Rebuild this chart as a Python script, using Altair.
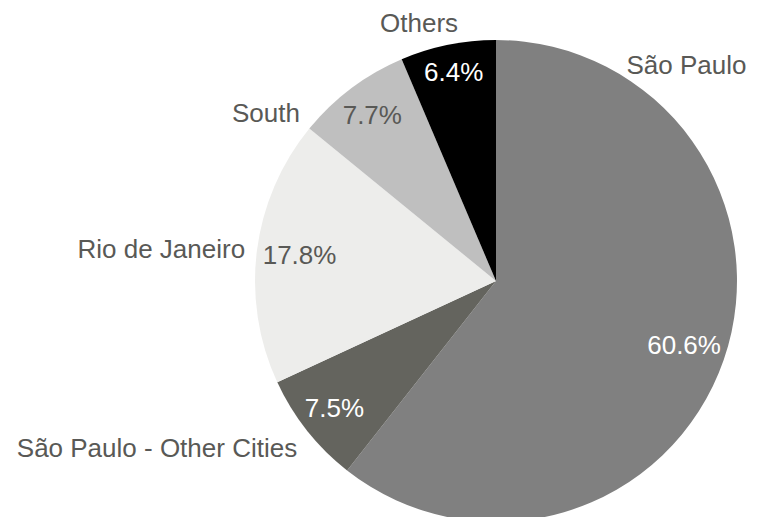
import altair as alt
import pandas as pd

categories = ["São Paulo", "São Paulo - Other Cities", "Rio de Janeiro", "South", "Others"]
shares = [60.6, 7.5, 17.8, 7.7, 6.4]
order_idx = [0, 1, 2, 3, 4]

slice_colors = ["#808080", "#64645e", "#ededeb", "#bfbfbf", "#000000"]
TEXT = "#595956"
FONT = "Liberation Sans"
CX, CY, R = 488, 273, 241

# percentage-label style: (radius, color)
pct_style = {
    "São Paulo": (199, "#ffffff"),
    "São Paulo - Other Cities": (206, "#ffffff"),
    "Rio de Janeiro": (198, TEXT),
    "South": (206, TEXT),
    "Others": (212, "#ffffff"),
}

# name-label placement: (align, dx, dy) relative to the mid-angle anchor at radius 265
name_style = {
    "São Paulo": ("center", -60, -302),
    "Others": ("center", -24, 3),
    "South": ("center", -71, 45),
    "Rio de Janeiro": ("right", 12, 2),
    "São Paulo - Other Cities": ("right", 9, 4),
}

df = pd.DataFrame({"cat": categories, "value": shares, "idx": order_idx})

theta_scale = alt.Scale(domain=[0, 100], range=[0, 6.283185307179586])

base = alt.Chart(df).transform_window(
    end="sum(value)", sort=[alt.SortField("idx")], frame=[None, 0]
).transform_calculate(
    start="datum.end - datum.value",
    mid="datum.end - datum.value / 2",
    pct="format(datum.value, '.1f') + '%'",
)

arcs = base.mark_arc(outerRadius=R).encode(
    theta=alt.Theta("start:Q", scale=theta_scale, stack=None),
    theta2="end:Q",
    color=alt.Color("cat:N", scale=alt.Scale(domain=categories, range=slice_colors), legend=None),
    x=alt.value(CX),
    y=alt.value(CY),
)

layers = [arcs]
for cat, (rad, col) in pct_style.items():
    layers.append(
        base.transform_filter(alt.datum.cat == cat)
        .mark_text(radius=rad, fontSize=26, font=FONT, baseline="middle", color=col)
        .encode(
            theta=alt.Theta("mid:Q", scale=theta_scale, stack=None),
            text="pct:N",
            x=alt.value(CX),
            y=alt.value(CY),
        )
    )

for cat, (align, dx, dy) in name_style.items():
    layers.append(
        base.transform_filter(alt.datum.cat == cat)
        .mark_text(radius=265, fontSize=26, font=FONT, baseline="middle", align=align, dx=dx, dy=dy, color=TEXT)
        .encode(
            theta=alt.Theta("mid:Q", scale=theta_scale, stack=None),
            text="cat:N",
            x=alt.value(CX),
            y=alt.value(CY),
        )
    )

chart = alt.layer(*layers).properties(
    width=747, height=509, padding=0, autosize=alt.AutoSizeParams(type="none")
).configure_view(stroke=None)

chart.save("out.html", embed_options={"renderer": "svg", "actions": False})
